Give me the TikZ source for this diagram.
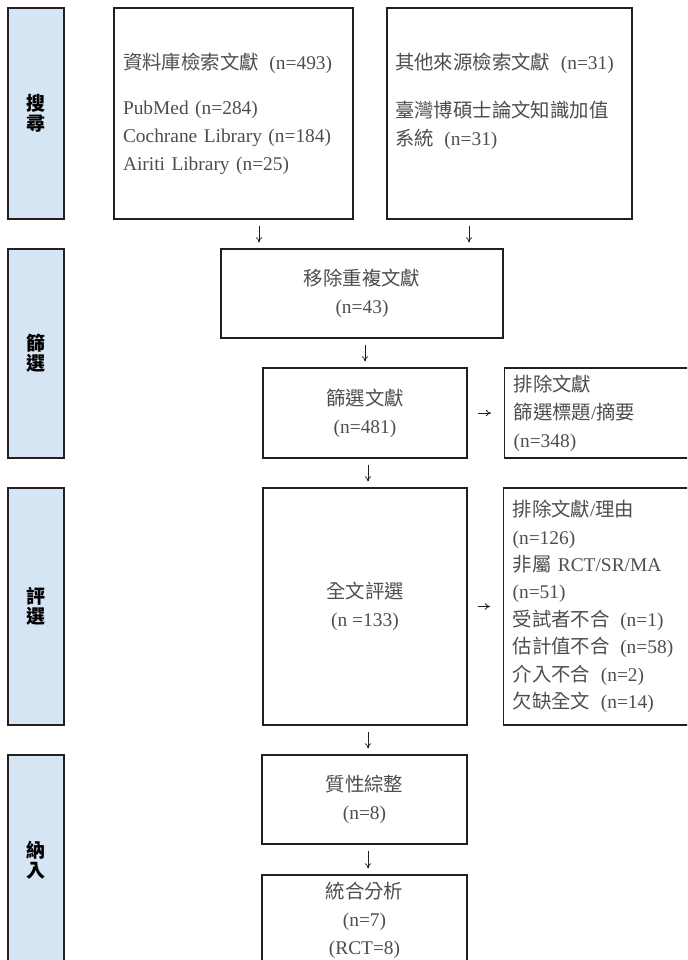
\documentclass[tikz,border=0pt]{standalone}
\usepackage{fontspec}
\setmainfont{Liberation Serif}
\newfontfamily\zhfont{Noto Sans CJK TC}
\newcommand{\zh}[1]{{\zhfont #1}}
\newcommand{\gap}{\hspace{0.55em}}
\usetikzlibrary{arrows.meta}
\definecolor{barblue}{HTML}{D5E5F3}
\definecolor{rule}{HTML}{231F20}
\definecolor{txtgray}{HTML}{4D4D4D}

\begin{document}
\begin{tikzpicture}[x=0.5pt,y=-0.5pt,
    stage/.style={draw=rule,fill=barblue,line width=0.6pt,minimum width=28pt,inner sep=0pt,align=center,font=\zhfont\bfseries\fontsize{9.5}{10}\selectfont},
    box/.style={draw=rule,line width=0.6pt,inner sep=0pt,text=txtgray,align=center,font=\fontsize{9.7}{14}\selectfont},
    lbox/.style={box,align=left,inner xsep=4.5pt},
    arr/.style={-{To[length=2.6pt,width=3.2pt]},line width=0.4pt,draw=rule,shorten <=3pt,shorten >=3pt},
    arrh/.style={arr,shorten <=5pt,shorten >=6.5pt}]
        \useasboundingbox (0,0) rectangle (687,960);
        \clip (0,0) rectangle (687,960);
        \node[stage,minimum height=105.5pt] (search) at (36,113.5) {搜\\尋};
        \node[stage,minimum height=104.5pt] (screening) at (36,353.5) {篩\\選};
        \node[stage,minimum height=118.5pt] (eligibility) at (36,606.5) {評\\選};
        \node[stage,minimum height=105pt] (included) at (36,860) {納\\入};
        \node[lbox,text width=110.5pt,minimum height=105.5pt] (db) at (233.5,113.5)
            {\zh{資料庫檢索文獻}\gap(n=493)\\[8.5pt]PubMed (n=284)\\Cochrane Library (n=184)\\Airiti Library (n=25)};
        \node[lbox,text width=114.5pt,inner xsep=4pt,minimum height=105.5pt] (other) at (509.5,113.5)
            {\zh{其他來源檢索文獻}\gap(n=31)\\[10pt]\zh{臺灣博碩士論文知識加值}\\\zh{系統}\gap(n=31)\\\mbox{}};
        \node[box,minimum width=141pt,minimum height=44.5pt] (dup) at (362,293.5) {\zh{移除重複文獻}\\(n=43)};
        \node[box,minimum width=102pt,minimum height=45pt] (screen) at (365,413) {\zh{篩選文獻}\\(n=481)};
        \node[lbox,text width=87.5pt,minimum height=45pt,anchor=west] (excl1) at (504,413)
            {\zh{排除文獻}\\\zh{篩選標題}/\zh{摘要}\\(n=348)};
        \node[box,minimum width=102pt,minimum height=118.5pt] (full) at (365,606.5) {\zh{全文評選}\\(n =133)};
        \node[lbox,text width=87.5pt,minimum height=118.5pt,anchor=west,font=\fontsize{9.7}{13.7}\selectfont] (excl2) at (503,606.5)
            {\zh{排除文獻}/\zh{理由}\\(n=126)\\\zh{非屬} RCT/SR/MA\\(n=51)\\\zh{受試者不合}\gap(n=1)\\\zh{估計值不合}\gap(n=58)\\\zh{介入不合}\gap(n=2)\\\zh{欠缺全文}\gap(n=14)};
        \node[box,minimum width=102.5pt,minimum height=44.5pt] (qual) at (364.5,799.5) {\zh{質性綜整}\\(n=8)};
        \node[box,minimum width=102.5pt,minimum height=45pt] (meta) at (364.5,920) {\zh{統合分析}\\(n=7)\\(RCT=8)};
        \draw[arr] ([xshift=12.75pt]db.south) -- ([xshift=12.75pt]db.south |- dup.north);
        \draw[arr] ([xshift=-20.25pt]other.south) -- ([xshift=-20.25pt]other.south |- dup.north);
        \draw[arr] (screen.north |- dup.south) -- (screen.north);
        \draw[arr] ([xshift=1.5pt]screen.south) -- ([xshift=1.5pt]full.north);
        \draw[arr] ([xshift=1.5pt]full.south) -- ([xshift=1.5pt]full.south |- qual.north);
        \draw[arr] ([xshift=1.75pt]qual.south) -- ([xshift=1.75pt]meta.north);
        \draw[arrh] (screen.east) -- (screen.east -| excl1.west);
        \draw[arrh] (full.east) -- (full.east -| excl2.west);
    \end{tikzpicture}
\end{document}
